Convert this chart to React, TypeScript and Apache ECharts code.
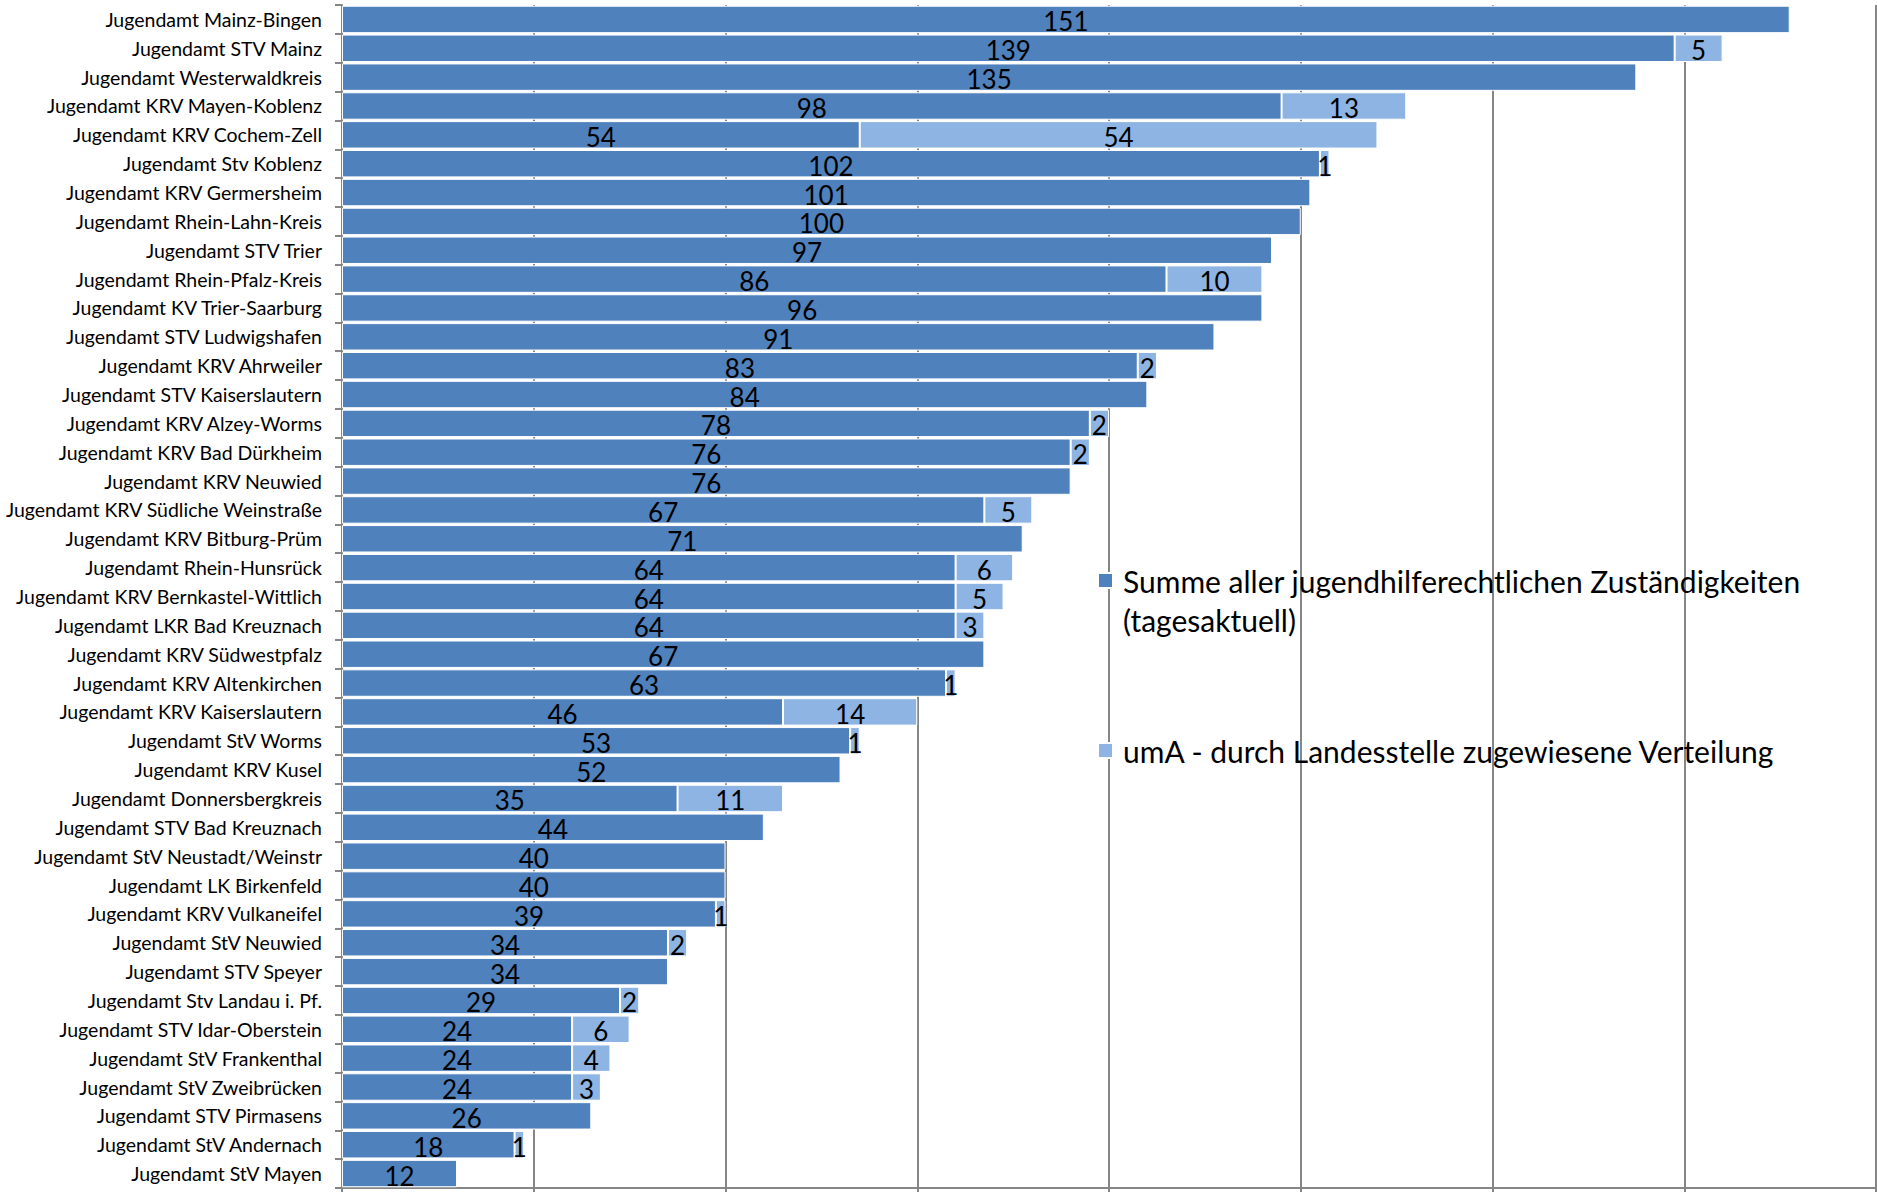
import React, { useEffect, useRef } from "react";
import * as echarts from "echarts";

const categories: string[] = [
  "Jugendamt Mainz-Bingen",
  "Jugendamt STV Mainz",
  "Jugendamt Westerwaldkreis",
  "Jugendamt KRV Mayen-Koblenz",
  "Jugendamt KRV Cochem-Zell",
  "Jugendamt Stv Koblenz",
  "Jugendamt KRV Germersheim",
  "Jugendamt Rhein-Lahn-Kreis",
  "Jugendamt STV Trier",
  "Jugendamt Rhein-Pfalz-Kreis",
  "Jugendamt KV Trier-Saarburg",
  "Jugendamt STV Ludwigshafen",
  "Jugendamt KRV Ahrweiler",
  "Jugendamt STV Kaiserslautern",
  "Jugendamt KRV Alzey-Worms",
  "Jugendamt KRV Bad Dürkheim",
  "Jugendamt KRV Neuwied",
  "Jugendamt KRV Südliche Weinstraße",
  "Jugendamt KRV Bitburg-Prüm",
  "Jugendamt Rhein-Hunsrück",
  "Jugendamt KRV Bernkastel-Wittlich",
  "Jugendamt LKR Bad Kreuznach",
  "Jugendamt KRV Südwestpfalz",
  "Jugendamt KRV Altenkirchen",
  "Jugendamt KRV Kaiserslautern",
  "Jugendamt StV Worms",
  "Jugendamt KRV Kusel",
  "Jugendamt Donnersbergkreis",
  "Jugendamt STV Bad Kreuznach",
  "Jugendamt StV Neustadt/Weinstr",
  "Jugendamt LK Birkenfeld",
  "Jugendamt KRV Vulkaneifel",
  "Jugendamt StV Neuwied",
  "Jugendamt STV Speyer",
  "Jugendamt Stv Landau i. Pf.",
  "Jugendamt STV Idar-Oberstein",
  "Jugendamt StV Frankenthal",
  "Jugendamt StV Zweibrücken",
  "Jugendamt STV Pirmasens",
  "Jugendamt StV Andernach",
  "Jugendamt StV Mayen",
];

const summeValues: number[] = [
  151, 139, 135, 98, 54, 102, 101, 100, 97, 86, 96, 91, 83, 84, 78, 76, 76, 67,
  71, 64, 64, 64, 67, 63, 46, 53, 52, 35, 44, 40, 40, 39, 34, 34, 29, 24, 24,
  24, 26, 18, 12,
];

const umaValues: number[] = [
  0, 5, 0, 13, 54, 1, 0, 0, 0, 10, 0, 0, 2, 0, 2, 2, 0, 5, 0, 6, 5, 3, 0, 1,
  14, 1, 0, 11, 0, 0, 0, 1, 2, 0, 2, 6, 4, 3, 0, 1, 0,
];

const seriesNames: string[] = [
  "Summe aller jugendhilferechtlichen Zuständigkeiten (tagesaktuell)",
  "umA - durch Landesstelle zugewiesene Verteilung",
];

const axisMin = 0;
const axisMax = 160;
const axisInterval = 20;

const FONT = "Lato, 'Open Sans', sans-serif";
const DARK = "#4F81BD";
const LIGHT = "#8DB4E2";
const GRID = "#868686";

export default function App() {
  const ref = useRef<HTMLDivElement>(null);

  useEffect(() => {
    if (!ref.current) return;
    const chart = echarts.init(ref.current, null, { renderer: "svg" });

    const valueLabel = {
      show: true,
      position: "inside",
      fontSize: 26,
      fontFamily: FONT,
      color: "#000",
      offset: [0, 2],
      formatter: (p: any) => (p.value ? String(p.value) : ""),
    };

    const legendText = {
      fontSize: 30,
      fontFamily: FONT,
      color: "#000",
      lineHeight: 39,
      padding: [0, 0, 0, 5],
    };

    chart.setOption({
      animation: false,
      backgroundColor: "#fff",
      grid: { left: 342, right: 1, top: 5, bottom: 4 },
      xAxis: {
        type: "value",
        min: axisMin,
        max: axisMax,
        interval: axisInterval,
        axisLabel: { show: false },
        axisLine: { show: true, lineStyle: { color: GRID, width: 2 } },
        axisTick: { show: true, length: 5, lineStyle: { color: GRID, width: 2 } },
        splitLine: { show: true, lineStyle: { color: GRID, width: 2 } },
      },
      yAxis: {
        type: "category",
        inverse: true,
        data: categories,
        axisLine: { show: true, lineStyle: { color: GRID, width: 2 } },
        axisTick: { show: true, length: 7, lineStyle: { color: GRID, width: 2 } },
        axisLabel: {
          fontSize: 19.5,
          fontFamily: FONT,
          color: "#000",
          margin: 20,
        },
        splitLine: { show: false },
      },
      legend: [
        {
          data: [seriesNames[0]],
          left: 1097,
          top: 522,
          padding: 0,
          icon: "rect",
          itemWidth: 15,
          itemHeight: 15,
          formatter: () =>
            " \nSumme aller jugendhilferechtlichen Zuständigkeiten\n(tagesaktuell)",
          textStyle: legendText,
        },
        {
          data: [seriesNames[1]],
          left: 1097,
          top: 731,
          padding: 0,
          icon: "rect",
          itemWidth: 15,
          itemHeight: 15,
          textStyle: legendText,
        },
      ],
      series: [
        {
          name: seriesNames[0],
          type: "bar",
          stack: "total",
          barCategoryGap: "5%",
          data: summeValues,
          itemStyle: { color: DARK, borderColor: "#fff", borderWidth: 1 },
          label: valueLabel,
        },
        {
          name: seriesNames[1],
          type: "bar",
          stack: "total",
          barCategoryGap: "5%",
          data: umaValues.map((v) => (v ? v : null)),
          itemStyle: { color: LIGHT, borderColor: "#fff", borderWidth: 1 },
          label: valueLabel,
        },
      ],
    });

    return () => chart.dispose();
  }, []);

  return (
    <div
      ref={ref}
      style={{
        position: "fixed",
        left: 0,
        top: 0,
        width: 1877,
        height: 1192,
        background: "#fff",
      }}
    />
  );
}
